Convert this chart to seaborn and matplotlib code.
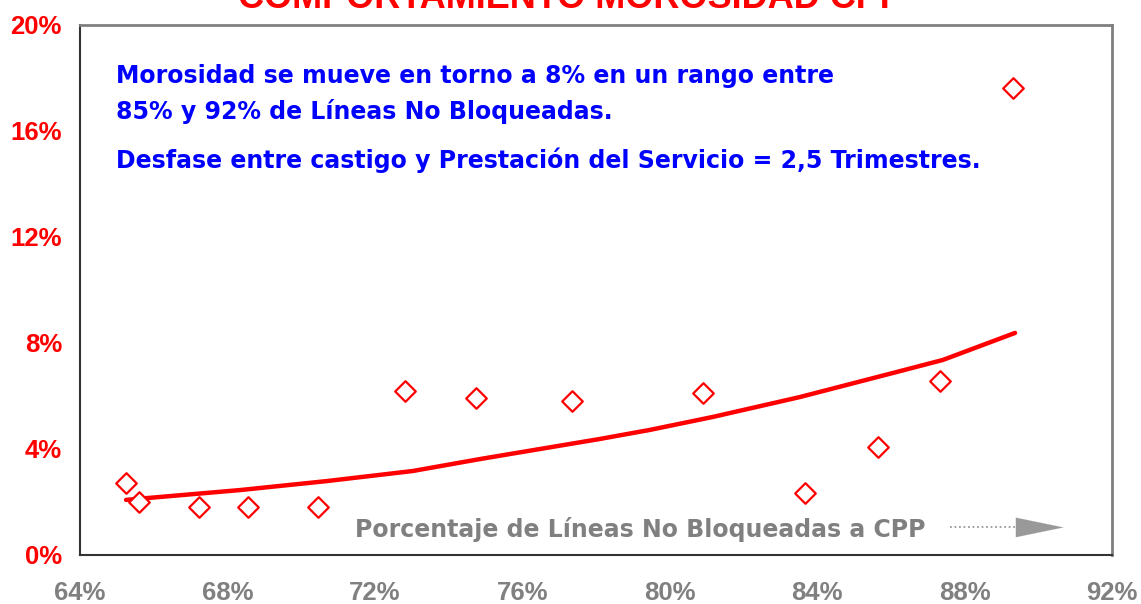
import matplotlib
matplotlib.use("Agg")
import matplotlib.pyplot as plt
import seaborn as sns
import pandas as pd
from matplotlib.ticker import FuncFormatter

# Observed points (% lines not blocked vs. % delinquency)
lineas_pct = [65.25, 65.6, 67.23, 68.56, 70.46, 72.82, 74.74, 77.35, 80.9, 83.67, 85.65, 87.33, 89.31]
morosidad_pct = [2.72, 2.0, 1.81, 1.81, 1.81, 6.19, 5.92, 5.81, 6.11, 2.34, 4.08, 6.57, 17.62]

# Trend line
trend_x = [65.25, 68.34, 70.70, 73.03, 74.85, 78.11, 79.46, 81.17, 83.53, 86.17, 87.41, 89.37]
trend_y = [2.08, 2.45, 2.79, 3.17, 3.62, 4.38, 4.72, 5.21, 5.96, 6.91, 7.36, 8.38]

x_ticks = [64, 68, 72, 76, 80, 84, 88, 92]
y_ticks = [0, 4, 8, 12, 16, 20]

title = "COMPORTAMIENTO MOROSIDAD CPP"
nota_1 = "Morosidad se mueve en torno a 8% en un rango entre"
nota_2 = "85% y 92% de Líneas No Bloqueadas."
nota_3 = "Desfase entre castigo y Prestación del Servicio = 2,5 Trimestres."
x_label = "Porcentaje de Líneas No Bloqueadas a CPP"

sns.set_style("white")
plt.rcParams['font.family'] = ['Liberation Sans', 'DejaVu Sans']

pts = pd.DataFrame({"x": lineas_pct, "y": morosidad_pct})
trend = pd.DataFrame({"x": trend_x, "y": trend_y})

fig = plt.figure(figsize=(11.41, 6.04), dpi=100)
ax = fig.add_axes([80 / 1141, 49 / 604, 1032 / 1141, 530 / 604])

sns.lineplot(data=trend, x="x", y="y", ax=ax, color="#ff0000", linewidth=3.2, sort=True)
sns.scatterplot(data=pts, x="x", y="y", ax=ax, marker="D", s=110,
                facecolor="white", edgecolor="#ff0000", linewidth=1.6, zorder=3)

ax.set_xlim(64, 92)
ax.set_ylim(0, 20)
ax.set_xticks(x_ticks)
ax.set_yticks(y_ticks)
ax.xaxis.set_major_formatter(FuncFormatter(lambda v, p: f"{v:.0f}%"))
ax.yaxis.set_major_formatter(FuncFormatter(lambda v, p: f"{v:.0f}%"))
ax.set_xlabel("")
ax.set_ylabel("")
ax.tick_params(axis="x", length=0, pad=19, labelsize=18.5, labelcolor="#808080")
ax.tick_params(axis="y", length=0, pad=13, labelsize=18.5, labelcolor="#ff0000")
for lab in ax.get_xticklabels() + ax.get_yticklabels():
    lab.set_fontweight("bold")

for side in ["top", "right"]:
    ax.spines[side].set_color("#808080")
    ax.spines[side].set_linewidth(2)
for side in ["left", "bottom"]:
    ax.spines[side].set_color("#333333")
    ax.spines[side].set_linewidth(1.5)

# Notes (wider font to mimic the spaced lettering)
note_font = ["DejaVu Sans", "Liberation Sans"]
ax.text(0.0349, 0.8906, nota_1, transform=ax.transAxes, color="#0000ff",
        fontsize=17, fontweight="bold", va="baseline", family=note_font)
ax.text(0.0349, 0.8226, nota_2, transform=ax.transAxes, color="#0000ff",
        fontsize=17, fontweight="bold", va="baseline", family=note_font)
ax.text(0.0349, 0.7302, nota_3, transform=ax.transAxes, color="#0000ff",
        fontsize=17, fontweight="bold", va="baseline", family=note_font)

# Axis caption inside the plot with an arrow
ax.text(0.2665, 0.034, x_label, transform=ax.transAxes, color="#808080",
        fontsize=17, fontweight="bold", va="baseline", family=note_font)
ax.plot([0.843, 0.93], [0.052, 0.052], transform=ax.transAxes, color="#999999",
        linestyle=(0, (1, 1.5)), linewidth=1.3)
ax.annotate("", xy=(0.953, 0.052), xytext=(0.928, 0.052),
            xycoords="axes fraction", textcoords="axes fraction",
            arrowprops=dict(arrowstyle="-|>,head_length=1.7,head_width=0.35",
                            color="#999999", linewidth=0.1, mutation_scale=20,
                            shrinkA=0, shrinkB=0))

fig.text(0.5, 1 - 8 / 604, title, color="#ff0000", fontsize=26,
         fontweight="bold", ha="center", va="baseline")

fig.savefig("out.png", dpi=100)
